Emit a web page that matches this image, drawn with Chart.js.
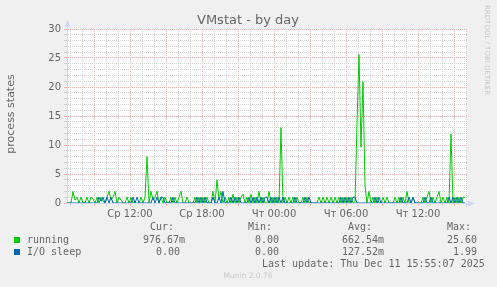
<!DOCTYPE html>
<html>
<head>
<meta charset="utf-8">
<script src="https://cdn.jsdelivr.net/npm/chart.js@4.4.1/dist/chart.umd.min.js"></script>
<style>
  html, body { margin: 0; padding: 0; background: #f0f0f0; }
  #wrap { width: 497px; height: 287px; }
</style>
</head>
<body>
<div id="wrap"><canvas id="vmstat" width="497" height="287"></canvas></div>
<script>
// --- data (10 minute samples, first one at Wed 06:45) ---
const startHour = 6.75;
const stepHours = 1 / 6;

const running = [
  0, 0, 0, 2, 0.5, 1, 0, 1, 0, 0,
  1, 0, 1, 0.7, 0, 1, 0, 1, 0.3, 0,
  1, 2, 0.5, 1, 2, 0, 1, 0.5, 0, 0,
  1, 0, 1, 0, 0, 0, 0, 1, 0, 1,
  8, 0, 2, 0.5, 1, 2, 0, 1, 0, 1,
  0, 0, 1, 0, 1, 0, 1, 2, 0, 0,
  1, 0, 0, 0, 1, 0, 1, 0, 1, 0,
  1, 0, 0, 2, 0, 4, 0.5, 2, 0, 1,
  0, 1, 0, 1.5, 0, 1, 0, 1, 1.5, 0,
  1, 0, 1.5, 0, 1, 0, 2, 0, 1, 0,
  0, 2, 0, 1, 0, 1, 0, 13, 0, 1,
  0, 1, 0, 1, 0, 1, 0, 0, 1, 0,
  1, 0, 0, 0, 0, 0, 1, 0, 1, 0,
  1, 0, 1, 0, 1, 0, 1, 0, 1, 0,
  1, 0, 1, 0, 0, 13.8, 25.6, 9.6, 20.9, 3,
  0, 2, 0, 1, 0, 1, 0, 0, 1, 0,
  1, 0, 0, 0, 1, 0, 1, 0, 1, 0,
  2, 0, 0, 1, 0, 0, 0, 0, 1, 0,
  1, 2, 0, 1, 0, 1, 2, 0, 1, 0,
  1, 0, 11.9, 0, 1, 0, 1, 0, 1, 0.98
];

const ioSleep = [
  0, 0, 0, 0, 0, 0, 0, 0, 0, 0,
  0, 0, 0, 0, 0, 0, 1, 0.3, 1, 0,
  1, 0, 1, 0, 0, 0, 0, 0, 0, 0,
  0, 0, 0, 1, 0, 1, 0, 0, 0, 0,
  0, 0, 0, 1, 0, 1, 0, 1, 1, 0,
  0, 0, 0, 1, 0, 0, 0, 0, 0, 0,
  0, 0, 0, 0, 0, 1, 0, 1, 0, 1,
  0, 0, 0, 1, 0, 0, 1, 0, 2, 0,
  0, 0, 1, 0, 1, 0, 1, 0, 0, 0,
  0, 1, 0, 1, 0, 1, 0, 1, 0, 1,
  1, 0, 1, 0, 1, 0, 1, 0, 1, 0,
  0, 0, 0, 0, 1, 0, 0, 0, 0, 1,
  0, 1, 0, 0, 0, 0, 0, 0, 0, 0,
  0, 0, 0, 0, 0, 0, 0, 1, 0, 1,
  0, 1, 0, 1, 1, 0, 0, 0, 0, 0,
  0, 0, 0, 0, 1, 0, 1, 0, 0, 0,
  0, 0, 0, 0, 0, 0, 0, 1, 0, 0,
  0, 1, 0, 1, 0, 0, 0, 0, 0, 1,
  0, 0, 1, 0, 0, 0, 0, 0, 0, 0,
  0, 1, 0, 1, 0, 1, 0, 1, 0, 0
];

const xTickHours = [12, 18, 24, 30, 36];
const xTickLabels = ['Ср 12:00', 'Ср 18:00', 'Чт 00:00', 'Чт 06:00', 'Чт 12:00'];

const seriesNames = ['running', 'I/O sleep'];
const seriesColors = ['#00cc00', '#0066b3'];
const curVals = ['976.67m', '0.00'];
const minVals = ['0.00', '0.00'];
const avgVals = ['662.54m', '127.52m'];
const maxVals = ['25.60', '1.99'];
const lastUpdate = 'Last update: Thu Dec 11 15:55:07 2025';

// --- colours ---
const GRID = '#d2d2d2';
const MGRID = '#efb0b0';
const AXIS = '#cfd6f8';
const FONT = '#666666';

const toPoints = arr => arr.map((v, i) => ({ x: startHour + i * stepHours, y: v }));

// background, title, legend and the rest of the rrdtool decoration
const muninDecor = {
  id: 'muninDecor',
  beforeDraw(chart) {
    const { ctx, chartArea: a } = chart;
    ctx.save();
    ctx.fillStyle = '#f0f0f0';
    ctx.fillRect(0, 0, chart.width, chart.height);
    ctx.fillStyle = '#ffffff';
    ctx.fillRect(a.left, a.top, a.right - a.left, a.bottom - a.top);
    ctx.restore();
  },
  afterDraw(chart) {
    const { ctx, chartArea: a } = chart;
    ctx.save();

    // arrows on the axes
    ctx.fillStyle = AXIS;
    ctx.strokeStyle = AXIS;
    ctx.lineWidth = 1;
    ctx.beginPath();
    ctx.moveTo(a.left + 0.5, a.top);
    ctx.lineTo(a.left + 0.5, 25);
    ctx.stroke();
    ctx.beginPath();
    ctx.moveTo(a.left - 2.5, 27);
    ctx.lineTo(a.left + 0.5, 20);
    ctx.lineTo(a.left + 3.5, 27);
    ctx.closePath();
    ctx.fill();
    ctx.beginPath();
    ctx.moveTo(a.right, a.bottom + 0.5);
    ctx.lineTo(a.right + 3, a.bottom + 0.5);
    ctx.stroke();
    ctx.beginPath();
    ctx.moveTo(a.right + 1, a.bottom - 2.5);
    ctx.lineTo(a.right + 8, a.bottom + 0.5);
    ctx.lineTo(a.right + 1, a.bottom + 3.5);
    ctx.closePath();
    ctx.fill();

    // title
    ctx.fillStyle = FONT;
    ctx.font = '13px "DejaVu Sans"';
    ctx.textAlign = 'center';
    ctx.textBaseline = 'alphabetic';
    ctx.fillText('VMstat - by day', 248, 24);

    // vertical axis label
    ctx.save();
    ctx.translate(11, 114);
    ctx.rotate(-Math.PI / 2);
    ctx.font = '11px "DejaVu Sans"';
    ctx.textBaseline = 'middle';
    ctx.fillText('process states', 0, 0);
    ctx.restore();

    // rrdtool watermark
    ctx.save();
    ctx.translate(487, 5);
    ctx.rotate(Math.PI / 2);
    ctx.fillStyle = '#c8c8c8';
    ctx.font = '7px "DejaVu Sans"';
    ctx.textAlign = 'left';
    ctx.textBaseline = 'middle';
    ctx.fillText('RRDTOOL / TOBI OETIKER', 0, 0);
    ctx.restore();

    // legend table
    ctx.font = '10px "DejaVu Sans Mono"';
    ctx.textAlign = 'left';
    ctx.textBaseline = 'middle';
    ctx.fillStyle = FONT;
    ctx.fillText('Cur:', 150, 227);
    ctx.fillText('Min:', 248, 227);
    ctx.fillText('Avg:', 348, 227);
    ctx.fillText('Max:', 447, 227);

    const rowY = [240, 252];
    const curX = [143, 156];
    const maxX = [447, 453];
    seriesNames.forEach((name, i) => {
      const y = rowY[i];
      ctx.fillStyle = seriesColors[i];
      ctx.fillRect(14, y - 3, 6, 6);
      ctx.fillStyle = FONT;
      ctx.fillText(name, 27, y);
      ctx.fillText(curVals[i], curX[i], y);
      ctx.fillText(minVals[i], 255, y);
      ctx.fillText(avgVals[i], 342, y);
      ctx.fillText(maxVals[i], maxX[i], y);
    });
    ctx.fillText(lastUpdate, 262, 264);

    ctx.fillStyle = '#c8c8c8';
    ctx.font = '7.5px "DejaVu Sans"';
    ctx.textAlign = 'center';
    ctx.fillText('Munin 2.0.76', 248, 276);

    ctx.restore();
  }
};

new Chart(document.getElementById('vmstat').getContext('2d'), {
  type: 'line',
  data: {
    datasets: [
      { label: seriesNames[0], data: toPoints(running), borderColor: seriesColors[0], borderWidth: 1, pointRadius: 0, tension: 0, order: 1 },
      { label: seriesNames[1], data: toPoints(ioSleep), borderColor: seriesColors[1], borderWidth: 1, pointRadius: 0, tension: 0, order: 0 }
    ]
  },
  options: {
    responsive: false,
    animation: false,
    events: [],
    layout: { padding: { left: 0, top: 29, right: 30, bottom: 0 } },
    plugins: { legend: { display: false }, title: { display: false }, tooltip: { enabled: false } },
    scales: {
      x: {
        type: 'linear',
        min: startHour,
        max: 40.0833,
        afterBuildTicks: axis => {
          const t = [];
          for (let h = 7; h <= 40; h++) t.push({ value: h });
          axis.ticks = t;
        },
        afterFit: axis => { axis.height = 84; },
        ticks: {
          autoSkip: false,
          maxRotation: 0,
          padding: 2,
          color: FONT,
          font: { family: 'DejaVu Sans', size: 10 },
          callback: v => {
            const k = xTickHours.indexOf(v);
            return k >= 0 ? xTickLabels[k] : '';
          }
        },
        grid: {
          color: c => (c.tick && c.tick.value % 3 === 0 ? MGRID : GRID),
          tickLength: 3,
          lineWidth: 1
        },
        border: { display: true, color: AXIS, width: 1, dash: [1, 1] }
      },
      y: {
        min: 0,
        max: 30,
        afterFit: axis => { axis.width = 67; },
        ticks: {
          stepSize: 1,
          autoSkip: false,
          padding: 3,
          color: FONT,
          font: { family: 'DejaVu Sans', size: 10 },
          callback: v => (v % 5 === 0 ? v : '')
        },
        grid: {
          color: c => (c.tick && c.tick.value % 5 === 0 ? MGRID : GRID),
          tickLength: 3,
          lineWidth: 1
        },
        border: { display: true, color: AXIS, width: 1, dash: [1, 1] }
      }
    }
  },
  plugins: [muninDecor]
});
</script>
</body>
</html>
